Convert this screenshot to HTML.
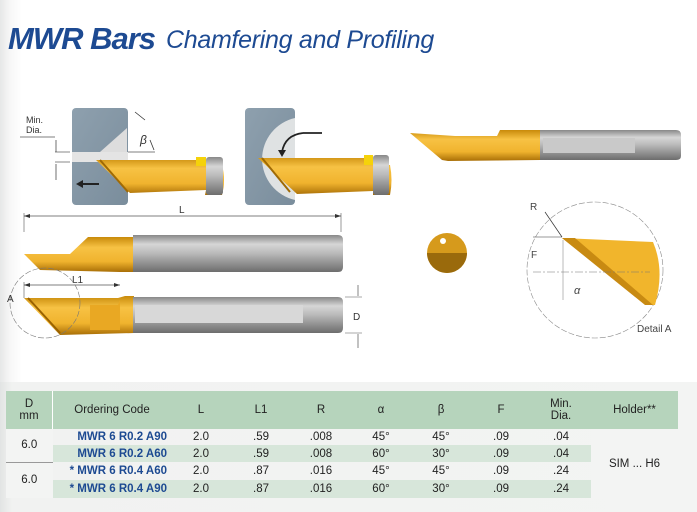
<!DOCTYPE html>
<html><head><meta charset="utf-8"><style>
*{margin:0;padding:0}
body{width:697px;height:512px;overflow:hidden;background:linear-gradient(90deg,#e6e7e7 0,#f7f7f7 10px,#fff 22px);font-family:"Liberation Sans",sans-serif;position:relative}
.t{position:absolute;white-space:nowrap}
</style></head><body>
<div style="position:absolute;left:0;top:382px;width:697px;height:130px;background:linear-gradient(90deg,#e2e4e3 0,#f1f2f1 12px,#f3f4f3 100%)"></div>
<div class="t" style="left:8px;top:21px;font:italic bold 31px 'Liberation Sans',sans-serif;color:#1d4a92;letter-spacing:-1px">MWR Bars</div>
<div class="t" style="left:166px;top:26px;font:italic 25px 'Liberation Sans',sans-serif;color:#1d4a92;letter-spacing:-0.3px">Chamfering and Profiling</div>

<svg width="697" height="380" style="position:absolute;left:0;top:0" font-family="Liberation Sans" >
<defs>
<linearGradient id="g" x1="0" y1="0" x2="0" y2="1"><stop offset="0" stop-color="#888"/><stop offset=".25" stop-color="#d6d6d6"/><stop offset=".5" stop-color="#b9b9b9"/><stop offset="1" stop-color="#6d6d6d"/></linearGradient>
<linearGradient id="y" x1="0" y1="0" x2="0" y2="1"><stop offset="0" stop-color="#c88a0a"/><stop offset=".3" stop-color="#f7c244"/><stop offset=".7" stop-color="#f0b32e"/><stop offset="1" stop-color="#a86e06"/></linearGradient>
<linearGradient id="b" x1="0" y1="0" x2="1" y2="1"><stop offset="0" stop-color="#8ea0ae"/><stop offset="1" stop-color="#7a8d9c"/></linearGradient>
</defs>
<rect x="72" y="108" width="56" height="97" rx="4" fill="url(#b)"/>
<polygon points="100,152 127,128 127,152" fill="#ddd"/>
<rect x="72" y="152" width="56" height="10" fill="#e4e4e4"/>
<line x1="20" y1="137" x2="55" y2="137" stroke="#555" stroke-width=".7"/>
<line x1="55" y1="152" x2="70" y2="152" stroke="#555" stroke-width=".7"/>
<line x1="55" y1="162" x2="70" y2="162" stroke="#555" stroke-width=".7"/>
<line x1="56" y1="140" x2="56" y2="152" stroke="#333" stroke-width=".7"/>
<line x1="56" y1="164" x2="56" y2="180" stroke="#333" stroke-width=".7"/>
<text x="26" y="123" font-size="9" fill="#333">Min.</text><text x="26" y="133" font-size="9" fill="#333">Dia.</text>
<path d="M135 112 L145 120" stroke="#333" stroke-width=".8" fill="none"/>
<path d="M150 140 L154 150" stroke="#333" stroke-width=".8" fill="none"/>
<text x="140" y="144" font-size="12" font-style="italic" fill="#333">β</text>
<line x1="128" y1="152" x2="155" y2="152" stroke="#555" stroke-width=".7"/>
<path d="M96 160 L200 160 L202 157 L205 157 L205 165 L222 165 Q226 180 222 195 L205 195 L206 190 L130 193 Z" fill="url(#y)"/>
<polygon points="196,157 206,157 206,166 196,166" fill="#f5d20a"/>
<rect x="206" y="157" width="17" height="38" rx="3" fill="url(#g)"/>
<line x1="100" y1="160" x2="128" y2="192" stroke="#a06a04" stroke-width="2"/>
<line x1="80" y1="184" x2="99" y2="184" stroke="#222" stroke-width="2"/><polygon points="76,184 83,180 83,188" fill="#222"/>
<rect x="245" y="108" width="50" height="97" rx="4" fill="url(#b)"/>
<path d="M295 118 A42 42 0 0 0 295 200 Z" fill="#dfe2e3"/>
<path d="M258 158 L368 158 L370 155 L373 155 L373 165 L390 165 Q393 180 390 195 L373 195 L373 191 L297 194 Z" fill="url(#y)"/>
<polygon points="364,155 373,155 373,165 364,165" fill="#f5d20a"/>
<rect x="373" y="155" width="16" height="40" rx="3" fill="url(#g)"/>
<line x1="262" y1="158" x2="290" y2="192" stroke="#a06a04" stroke-width="2"/>
<line x1="303" y1="133" x2="322" y2="133" stroke="#222" stroke-width="1.8"/>
<path d="M303 133 Q285 135 282 152" stroke="#222" stroke-width="1.8" fill="none"/><polygon points="278,150 286,150 282,157" fill="#222"/>
<line x1="24" y1="216" x2="341" y2="216" stroke="#555" stroke-width=".7"/>
<polygon points="24,216 30,214 30,218" fill="#333"/><polygon points="341,216 335,214 335,218" fill="#333"/>
<line x1="24" y1="213" x2="24" y2="232" stroke="#555" stroke-width=".6"/><line x1="341" y1="213" x2="341" y2="232" stroke="#555" stroke-width=".6"/>
<text x="179" y="213" font-size="10" fill="#333">L</text>
<path d="M24 254 L70 254 L88 237 L134 237 L134 272 L120 272 L40 270 Z" fill="url(#y)"/>
<path d="M133 235 L338 235 Q343 235 343 240 L343 267 Q343 272 338 272 L133 272 Z" fill="url(#g)"/>
<line x1="24" y1="285" x2="120" y2="285" stroke="#555" stroke-width=".7"/>
<polygon points="24,285 30,283 30,287" fill="#333"/><polygon points="120,285 114,283 114,287" fill="#333"/>
<text x="72" y="283" font-size="10" fill="#333">L1</text>
<line x1="24" y1="282" x2="24" y2="298" stroke="#555" stroke-width=".6"/>
<path d="M24 298 L118 298 L125 296 L134 296 L134 333 L60 335 Z" fill="url(#y)"/>
<path d="M90 305 L118 305 L120 300 L120 330 L90 330 Z" fill="#e9a823"/>
<line x1="28" y1="298" x2="60" y2="333" stroke="#9a6200" stroke-width="2"/>
<path d="M133 297 L338 297 Q343 297 343 302 L343 328 Q343 333 338 333 L133 333 Z" fill="url(#g)"/>
<rect x="135" y="305" width="168" height="18" fill="#d8d8d8"/>
<circle cx="45" cy="303" r="35" fill="none" stroke="#777" stroke-width=".6" stroke-dasharray="6 2"/>
<text x="7" y="302" font-size="10" fill="#333">A</text>
<line x1="345" y1="297" x2="362" y2="297" stroke="#555" stroke-width=".6"/><line x1="345" y1="333" x2="362" y2="333" stroke="#555" stroke-width=".6"/>
<line x1="358" y1="285" x2="358" y2="296" stroke="#333" stroke-width=".6"/><line x1="358" y1="334" x2="358" y2="348" stroke="#333" stroke-width=".6"/>
<text x="353" y="320" font-size="10" fill="#333">D</text>
<path d="M410 133 L455 136 L497 136 L500 130 L540 130 L540 160 L448 161 L442 160 Z" fill="url(#y)"/>
<path d="M540 130 L676 130 Q681 130 681 135 L681 156 Q681 160 676 160 L540 160 Z" fill="url(#g)"/>
<rect x="543" y="138" width="92" height="15" fill="#c9c9c9"/>
<circle cx="447" cy="253" r="20" fill="#d69a1c"/>
<path d="M427 253 L467 253 A20 20 0 0 1 427 253 Z" fill="#9a6a0c"/>
<circle cx="443" cy="241" r="3" fill="#fff"/>
<circle cx="595" cy="270" r="68" fill="none" stroke="#888" stroke-width=".6" stroke-dasharray="6 2"/>
<path d="M562 238 L653 242 Q665 270 655 305 L647 305 Z" fill="#f1b52c"/>
<polygon points="562,238 575,238 653,305 645,305" fill="#c88a12"/>
<line x1="545" y1="212" x2="562" y2="237" stroke="#333" stroke-width=".7"/>
<line x1="533" y1="237" x2="562" y2="237" stroke="#333" stroke-width=".6"/>
<line x1="533" y1="272" x2="650" y2="272" stroke="#777" stroke-width=".6" stroke-dasharray="8 2 2 2"/>
<line x1="563" y1="240" x2="563" y2="300" stroke="#777" stroke-width=".5"/>
<text x="530" y="210" font-size="10" fill="#444">R</text>
<text x="531" y="258" font-size="10" fill="#444">F</text>
<text x="574" y="294" font-size="11" font-style="italic" fill="#444">α</text>
<text x="637" y="332" font-size="10" fill="#444">Detail A</text>
</svg>

<table style="position:absolute;left:6px;top:391px;width:672px;border-collapse:collapse;font-size:11.5px;color:#222;text-align:center">
<tr style="background:#b6d4bc;height:38px;line-height:12px"><td style="width:46px;border-right:1px solid #fff">D<br>mm</td><td style="width:118px">Ordering Code</td><td style="width:60px">L</td><td style="width:60px">L1</td><td style="width:60px">R</td><td style="width:60px">α</td><td style="width:60px">β</td><td style="width:60px">F</td><td style="width:60px">Min.<br>Dia.</td><td>Holder**</td></tr>
<tr style="height:16px"><td rowspan="2" style="background:#f3f4f3;border-bottom:1px solid #999">6.0</td><td style="text-align:right;color:#1d4a92;font-weight:bold;padding-right:4px">MWR 6 R0.2 A90</td><td>2.0</td><td>.59</td><td>.008</td><td>45°</td><td>45°</td><td>.09</td><td>.04</td><td rowspan="4" style="background:#f3f4f3">SIM ... H6</td></tr>
<tr style="height:17px;background:#d7e6da"><td style="text-align:right;color:#1d4a92;font-weight:bold;padding-right:4px">MWR 6 R0.2 A60</td><td>2.0</td><td>.59</td><td>.008</td><td>60°</td><td>30°</td><td>.09</td><td>.04</td></tr>
<tr style="height:18px"><td rowspan="2" style="background:#f3f4f3">6.0</td><td style="text-align:right;color:#1d4a92;font-weight:bold;padding-right:4px">* MWR 6 R0.4 A60</td><td>2.0</td><td>.87</td><td>.016</td><td>45°</td><td>45°</td><td>.09</td><td>.24</td></tr>
<tr style="height:18px;background:#d7e6da"><td style="text-align:right;color:#1d4a92;font-weight:bold;padding-right:4px">* MWR 6 R0.4 A90</td><td>2.0</td><td>.87</td><td>.016</td><td>60°</td><td>30°</td><td>.09</td><td>.24</td></tr>
</table>
</body></html>
